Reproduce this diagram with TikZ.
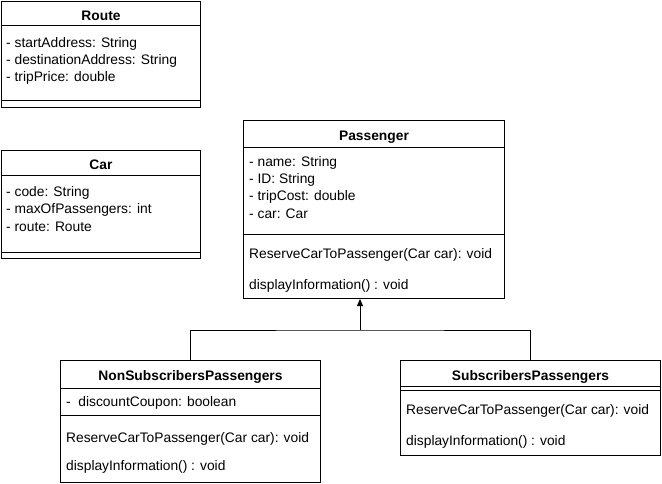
\documentclass[tikz,border=0pt]{standalone}
\usepackage{fontspec}
\setmainfont{Liberation Sans}
\usetikzlibrary{arrows.meta}
\tikzset{
  box/.style={draw, line width=1pt, anchor=north west, inner sep=0pt, fill=white},
  txt/.style={anchor=west, inner sep=0pt, yshift=-1.8pt, font=\fontsize{13.8}{16}\selectfont},
  hdr/.style={inner sep=0pt, yshift=-1.8pt, font=\bfseries\fontsize{13.8}{16}\selectfont},
  sep/.style={line width=1pt},
  conn/.style={line width=1pt}
}
\begin{document}
\begin{tikzpicture}[x=1pt,y=-1pt]
\useasboundingbox (0,0) rectangle (662,484);
% Route
\node[box, minimum width=199pt, minimum height=106pt] (route) at (1,1) {};
\node[hdr] (routeh) at ([yshift=-13pt]route.north) {Route};
\draw[sep] ([yshift=-25pt]route.north west) -- ([yshift=-25pt]route.north east);
\node[txt] (r1) at ([xshift=5pt,yshift=-41pt]route.north west) {- startAddress: String};
\node[txt] (r2) at ([xshift=5pt,yshift=-58pt]route.north west) {- destinationAddress: String};
\node[txt] (r3) at ([xshift=5pt,yshift=-75pt]route.north west) {- tripPrice: double};
\draw[sep] ([yshift=-100pt]route.north west) -- ([yshift=-100pt]route.north east);
% Car
\node[box, minimum width=199pt, minimum height=108pt] (car) at (1,150) {};
\node[hdr] (carh) at ([yshift=-13pt]car.north) {Car};
\draw[sep] ([yshift=-26pt]car.north west) -- ([yshift=-26pt]car.north east);
\node[txt] (c1) at ([xshift=5pt,yshift=-41pt]car.north west) {- code: String};
\node[txt] (c2) at ([xshift=5pt,yshift=-58pt]car.north west) {- maxOfPassengers: int};
\node[txt] (c3) at ([xshift=5pt,yshift=-75pt]car.north west) {- route: Route};
\draw[sep] ([yshift=-102pt]car.north west) -- ([yshift=-102pt]car.north east);
% Passenger
\node[box, minimum width=261pt, minimum height=178pt] (pass) at (243,120) {};
\node[hdr] (passh) at ([yshift=-15pt]pass.north) {Passenger};
\draw[sep] ([yshift=-28pt]pass.north west) -- ([yshift=-28pt]pass.north east);
\node[txt] (p1) at ([xshift=6pt,yshift=-41pt]pass.north west) {- name: String};
\node[txt] (p2) at ([xshift=6pt,yshift=-58pt]pass.north west) {- ID: String};
\node[txt] (p3) at ([xshift=6pt,yshift=-75pt]pass.north west) {- tripCost: double};
\node[txt] (p4) at ([xshift=6pt,yshift=-92pt]pass.north west) {- car: Car};
\draw[sep] ([yshift=-115pt]pass.north west) -- ([yshift=-115pt]pass.north east);
\node[txt] (p5) at ([xshift=6pt,yshift=-133pt]pass.north west) {ReserveCarToPassenger(Car car): void};
\node[txt] (p6) at ([xshift=6pt,yshift=-164pt]pass.north west) {displayInformation() : void};
% NonSubscribers
\node[box, minimum width=260pt, minimum height=122pt] (nons) at (60,360) {};
\node[hdr] (nonsh) at ([yshift=-15pt]nons.north) {NonSubscribersPassengers};
\draw[sep] ([yshift=-28pt]nons.north west) -- ([yshift=-28pt]nons.north east);
\node[txt] (n1) at ([xshift=6pt,yshift=-41pt]nons.north west) {-\ \ discountCoupon: boolean};
\draw[sep] ([yshift=-55pt]nons.north west) -- ([yshift=-55pt]nons.north east);
\node[txt] (n2) at ([xshift=6pt,yshift=-77pt]nons.north west) {ReserveCarToPassenger(Car car): void};
\node[txt] (n3) at ([xshift=6pt,yshift=-105pt]nons.north west) {displayInformation() : void};
% Subscribers
\node[box, minimum width=260pt, minimum height=95pt] (subs) at (400,360) {};
\node[hdr] (subsh) at ([yshift=-15pt]subs.north) {SubscribersPassengers};
\draw[sep] ([yshift=-26pt]subs.north west) -- ([yshift=-26pt]subs.north east);
\draw[sep] ([yshift=-30pt]subs.north west) -- ([yshift=-30pt]subs.north east);
\node[txt] (s1) at ([xshift=6pt,yshift=-49pt]subs.north west) {ReserveCarToPassenger(Car car): void};
\node[txt] (s2) at ([xshift=6pt,yshift=-80pt]subs.north west) {displayInformation() : void};
% connectors
\coordinate (jn) at (360,330);
\draw[conn] (nons.north) |- (jn) -| (subs.north);
\draw[conn, -{Triangle[length=7pt,width=6pt]}] (jn) -- (pass.south -| jn);
\end{tikzpicture}
\end{document}
